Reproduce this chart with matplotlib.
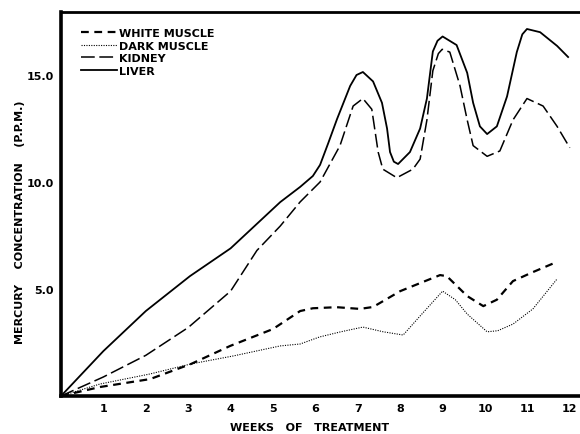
import matplotlib
matplotlib.use("Agg")
import matplotlib.pyplot as plt
from matplotlib.lines import Line2D

# ---- data (weeks, ppm) ----
liver_w = [0, 1.0, 2.0, 3.04, 4.0, 5.17, 5.64, 5.94, 6.11, 6.3, 6.51, 6.82, 6.97, 7.12, 7.36, 7.57,
           7.69, 7.76, 7.85, 7.95, 8.23, 8.47, 8.63, 8.77, 8.88, 9.0, 9.33, 9.58, 9.72, 9.88,
           10.05, 10.28, 10.52, 10.75, 10.88, 10.99, 11.3, 11.7, 11.96]
liver_v = [0, 2.1, 3.97, 5.6, 6.9, 9.06, 9.77, 10.28, 10.8, 11.8, 12.94, 14.49, 15.0, 15.14, 14.7, 13.7,
           12.5, 11.4, 10.95, 10.84, 11.4, 12.5, 13.9, 16.1, 16.6, 16.8, 16.4, 15.1, 13.7, 12.6,
           12.24, 12.6, 14.0, 16.07, 16.9, 17.15, 17.0, 16.36, 15.84]

kidney_w = [0, 1.0, 2.0, 3.0, 4.0, 4.62, 5.17, 5.64, 6.11, 6.58, 6.89, 7.12, 7.33, 7.48, 7.59,
            7.92, 8.30, 8.47, 8.63, 8.77, 8.9, 8.99, 9.17, 9.41, 9.58, 9.72, 10.05, 10.35, 10.66,
            10.99, 11.37, 11.7, 12.0]
kidney_v = [0, 0.89, 1.9, 3.2, 4.9, 6.8, 7.94, 9.07, 10.0, 11.7, 13.55, 13.9, 13.4, 11.4, 10.6,
            10.2, 10.6, 11.07, 12.9, 15.2, 16.0, 16.2, 16.07, 14.5, 12.9, 11.7, 11.2, 11.45, 12.9,
            13.9, 13.55, 12.6, 11.6]

white_w = [0, 0.92, 2.1, 3.07, 3.99, 5.0, 5.64, 5.94, 6.5, 7.05, 7.36, 8.0, 8.5, 8.94, 9.1,
           9.58, 9.96, 10.28, 10.66, 11.13, 11.7]
white_v = [0, 0.42, 0.79, 1.5, 2.34, 3.13, 3.97, 4.1, 4.15, 4.07, 4.16, 4.9, 5.3, 5.65, 5.6,
           4.67, 4.2, 4.5, 5.37, 5.79, 6.27]

dark_w = [0, 0.92, 2.1, 3.07, 4.06, 5.17, 5.64, 6.1, 6.6, 7.12, 7.6, 8.07, 8.47, 9.0, 9.3,
          9.58, 10.05, 10.3, 10.66, 11.13, 11.7]
dark_v = [0, 0.56, 1.03, 1.5, 1.87, 2.34, 2.43, 2.76, 3.0, 3.22, 3.0, 2.85, 3.74, 4.9, 4.5,
          3.83, 3.0, 3.05, 3.36, 4.07, 5.47]

x_ticks = list(range(1, 13))
y_ticks = [5.0, 10.0, 15.0]
y_tick_labels = ["5.0", "10.0", "15.0"]
series_names = ["WHITE MUSCLE", "DARK MUSCLE", "KIDNEY", "LIVER"]

W, H = 580, 435
fig = plt.figure(figsize=(W / 100, H / 100), dpi=100)
ax = fig.add_axes([61 / W, (H - 397) / H, 1.0 - 61 / W, (397 - 13) / H])

ls_white = (0, (3.5, 2.5))
ls_dark = (0, (1, 1.2))
ls_kidney = (0, (9, 3))

ax.plot(white_w, white_v, color="black", lw=1.6, linestyle=ls_white)
ax.plot(dark_w, dark_v, color="black", lw=0.8, linestyle=ls_dark)
ax.plot(kidney_w, kidney_v, color="black", lw=1.1, linestyle=ls_kidney)
ax.plot(liver_w, liver_v, color="black", lw=1.3, linestyle="-")

ax.set_xlim(0, (W - 61) / 42.4)
ax.set_ylim(0, (397 - 13) / 21.4)

ax.set_xticks(x_ticks)
ax.set_xticklabels([str(t) for t in x_ticks], fontweight="bold", fontsize=8)
ax.set_yticks(y_ticks)
ax.set_yticklabels(y_tick_labels, fontweight="bold", fontsize=8)
ax.tick_params(length=0, pad=5)

for s in ["left", "bottom"]:
    ax.spines[s].set_linewidth(2.6)
ax.spines["top"].set_linewidth(2.0)
ax.spines["right"].set_visible(False)

handles = [
    Line2D([], [], color="black", lw=1.6, linestyle=ls_white),
    Line2D([], [], color="black", lw=0.8, linestyle=ls_dark),
    Line2D([], [], color="black", lw=1.1, linestyle=ls_kidney),
    Line2D([], [], color="black", lw=1.3, linestyle="-"),
]
ax.legend(handles, series_names, loc="upper left", bbox_to_anchor=(0.02, 0.985),
          frameon=False, handlelength=3.2, handletextpad=0.2, labelspacing=0.25,
          prop={"weight": "bold", "size": 8})

fig.text(20 / W, (H - 222) / H, "MERCURY    CONCENTRATION    (P.P.M.)", rotation=90,
         ha="center", va="center", fontsize=8, fontweight="bold")
fig.text(310 / W, (H - 428) / H, "WEEKS   OF   TREATMENT", ha="center", va="center",
         fontsize=8, fontweight="bold")

fig.savefig("out.png", dpi=100)
